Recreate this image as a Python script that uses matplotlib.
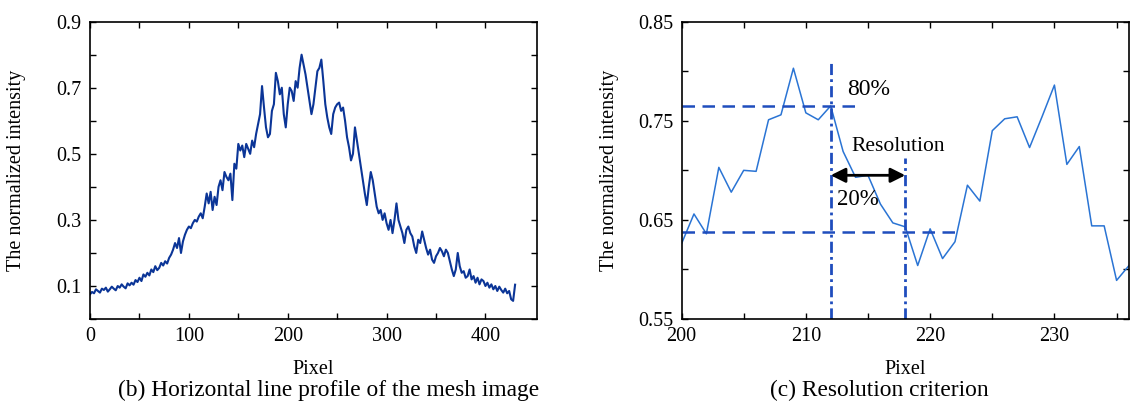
import numpy as np
import matplotlib
matplotlib.use("Agg")
import matplotlib.pyplot as plt

plt.rcParams["font.family"] = ["Liberation Serif", "DejaVu Serif"]
plt.rcParams["font.size"] = 14.5

# (b) horizontal line profile, one value every 2 pixels from 0 to 430
profile_step = 2
profile = [
    0.075, 0.082, 0.078, 0.090, 0.085, 0.080, 0.092, 0.088, 0.095, 0.083,
    0.090, 0.098, 0.092, 0.087, 0.100, 0.095, 0.105, 0.098, 0.093, 0.108, 0.102,
    0.110, 0.104, 0.118, 0.112, 0.125, 0.115, 0.135, 0.128, 0.140, 0.132,
    0.150, 0.142, 0.160, 0.148, 0.155, 0.170, 0.162, 0.175, 0.168, 0.185,
    0.195, 0.210, 0.230, 0.215, 0.245, 0.200, 0.235, 0.255, 0.270, 0.280,
    0.275, 0.290, 0.300, 0.295, 0.310, 0.320, 0.305, 0.340, 0.380, 0.350,
    0.385, 0.330, 0.370, 0.345, 0.400, 0.420, 0.390, 0.445, 0.430, 0.420,
    0.440, 0.360, 0.470, 0.455, 0.530, 0.510, 0.525, 0.490, 0.530, 0.515,
    0.500, 0.540, 0.520, 0.560, 0.590, 0.620, 0.705, 0.640, 0.580, 0.550,
    0.560, 0.630, 0.650, 0.745, 0.720, 0.680, 0.700, 0.620, 0.580, 0.650,
    0.700, 0.690, 0.660, 0.720, 0.700, 0.760, 0.800, 0.770, 0.740, 0.700,
    0.660, 0.620, 0.650, 0.700, 0.750, 0.760, 0.785, 0.720, 0.650, 0.610,
    0.580, 0.560, 0.620, 0.640, 0.650, 0.655, 0.630, 0.640, 0.600, 0.550,
    0.520, 0.480, 0.500, 0.580, 0.540, 0.500, 0.460, 0.420, 0.380, 0.345,
    0.400, 0.445, 0.420, 0.380, 0.340, 0.320, 0.330, 0.300, 0.320, 0.290,
    0.270, 0.300, 0.260, 0.300, 0.350, 0.300, 0.280, 0.260, 0.230, 0.270,
    0.280, 0.260, 0.250, 0.220, 0.200, 0.240, 0.230, 0.265, 0.240, 0.215,
    0.195, 0.210, 0.180, 0.170, 0.190, 0.200, 0.215, 0.205, 0.190, 0.210,
    0.200, 0.175, 0.150, 0.130, 0.150, 0.200, 0.160, 0.140, 0.145, 0.125,
    0.130, 0.150, 0.120, 0.130, 0.110, 0.125, 0.105, 0.120, 0.115, 0.100,
    0.110, 0.095, 0.105, 0.090, 0.100, 0.085, 0.098, 0.088, 0.080, 0.092,
    0.078, 0.085, 0.060, 0.055, 0.104,
]

# (c) resolution criterion, pixels 200..236
res_pixels = list(range(200, 237))
res_values = [
    0.626, 0.656, 0.636, 0.703, 0.678, 0.700, 0.699, 0.751, 0.756, 0.803,
    0.758, 0.751, 0.765, 0.719, 0.693, 0.695, 0.666, 0.647, 0.643, 0.604,
    0.641, 0.611, 0.628, 0.685, 0.669, 0.740, 0.752, 0.754, 0.723, 0.754,
    0.786, 0.706, 0.724, 0.644, 0.644, 0.589, 0.604,
]

level_80 = 0.765
level_20 = 0.638
edge_left = 212
edge_right = 218
arrow_y = 0.695

line_blue = "#2a74d4"
dash_blue = "#1f4dbd"


def style_axes(ax):
    ax.tick_params(direction="in", top=True, right=True, length=4, width=1,
                   labelsize=14.5, pad=6)
    for s in ax.spines.values():
        s.set_linewidth(1.2)


fig = plt.figure(figsize=(11.34, 4.08), dpi=100)
ax1 = fig.add_axes([0.0794, 0.218, 0.394, 0.729])
ax2 = fig.add_axes([0.601, 0.218, 0.3946, 0.729])

# left panel
px = np.arange(len(profile)) * profile_step
ax1.plot(px, profile, color="#0b3597", lw=1.5)
ax1.set_xlim(0, 452)
ax1.set_ylim(0, 0.9)
ax1.set_xticks(np.arange(0, 401, 50))
ax1.set_xticklabels([str(v) if v % 100 == 0 else "" for v in range(0, 401, 50)])
yt = np.round(np.arange(0, 0.91, 0.1), 1)
ax1.set_yticks(yt)
ax1.set_yticklabels([f"{v:.1f}" if round(v * 10) % 2 == 1 else "" for v in yt])
ax1.set_xlabel("Pixel", labelpad=10)
ax1.set_ylabel("The normalized intensity", labelpad=22)
style_axes(ax1)

# right panel
ax2.plot(res_pixels, res_values, color=line_blue, lw=1.1)
ax2.plot([200, 214.5], [level_80, level_80], color=dash_blue, lw=1.8,
         dashes=(5, 3))
ax2.plot([200, 222.3], [level_20, level_20], color=dash_blue, lw=1.8,
         dashes=(5, 3))
ax2.plot([edge_left, edge_left], [0.55, 0.808], color=dash_blue, lw=2,
         dashes=(4, 1.5, 1, 1.5))
ax2.plot([edge_right, edge_right], [0.55, 0.712], color=dash_blue, lw=2,
         dashes=(4, 1.5, 1, 1.5))
ax2.annotate("", xy=(edge_left, arrow_y), xytext=(edge_right, arrow_y),
             arrowprops=dict(arrowstyle="<|-|>", color="black", lw=2,
                             mutation_scale=22, shrinkA=0, shrinkB=0))
ax2.text(213.3, 0.782, "80%", fontsize=17, va="center")
ax2.text(213.7, 0.724, "Resolution", fontsize=15.5, va="center")
ax2.text(212.5, 0.671, "20%", fontsize=16.5, va="center")
ax2.set_xlim(200, 236)
ax2.set_ylim(0.55, 0.85)
xt2 = list(range(200, 236, 5))
ax2.set_xticks(xt2)
ax2.set_xticklabels([str(v) if v % 10 == 0 else "" for v in xt2])
yt2 = np.round(np.arange(0.55, 0.851, 0.05), 2)
ax2.set_yticks(yt2)
ax2.set_yticklabels([f"{v:.2f}" if round(v * 100) % 10 == 5 else "" for v in yt2])
ax2.set_xlabel("Pixel", labelpad=10)
ax2.set_ylabel("The normalized intensity", labelpad=14)
style_axes(ax2)

fig.text(0.29, 0.044, "(b) Horizontal line profile of the mesh image",
         ha="center", va="center", fontsize=16.8)
fig.text(0.775, 0.044, "(c) Resolution criterion",
         ha="center", va="center", fontsize=16.8)

fig.savefig("out.png", dpi=100)
